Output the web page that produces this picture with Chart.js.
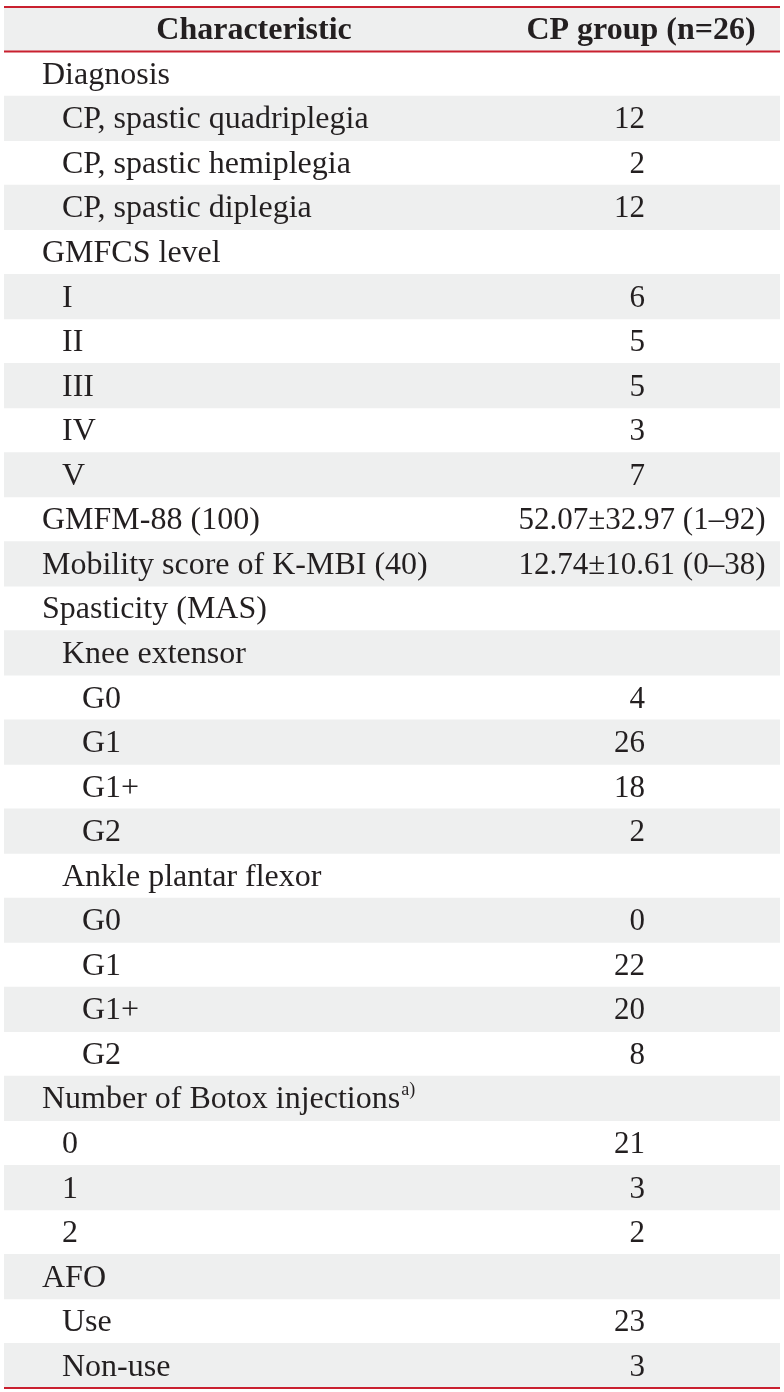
<!DOCTYPE html>
<html>
<head>
<meta charset="utf-8">
<script src="https://cdn.jsdelivr.net/npm/chart.js@4.4.1/dist/chart.umd.min.js"></script>
<style>
  html, body { margin: 0; padding: 0; background: #fff; }
  #wrap { width: 784px; height: 1392px; }
</style>
</head>
<body>
<div id="wrap"><canvas id="myChart" width="784" height="1392"></canvas></div>
<script>
(function () {
  'use strict'

  // table content
  const headers = ['Characteristic', 'CP group (n=26)']
  const rowLabels = [
    'Diagnosis', 'CP, spastic quadriplegia', 'CP, spastic hemiplegia', 'CP, spastic diplegia',
    'GMFCS level', 'I', 'II', 'III', 'IV', 'V',
    'GMFM-88 (100)', 'Mobility score of K-MBI (40)',
    'Spasticity (MAS)', 'Knee extensor', 'G0', 'G1', 'G1+', 'G2',
    'Ankle plantar flexor', 'G0', 'G1', 'G1+', 'G2',
    'Number of Botox injections', '0', '1', '2',
    'AFO', 'Use', 'Non-use'
  ]
  const rowLevels = [
    0, 1, 1, 1,
    0, 1, 1, 1, 1, 1,
    0, 0,
    0, 1, 2, 2, 2, 2,
    1, 2, 2, 2, 2,
    0, 1, 1, 1,
    0, 1, 1
  ]
  const rowValues = [
    '', '12', '2', '12',
    '', '6', '5', '5', '3', '7',
    '52.07\u00b132.97 (1\u201392)', '12.74\u00b110.61 (0\u201338)',
    '', '', '4', '26', '18', '2',
    '', '0', '22', '20', '8',
    '', '21', '3', '2',
    '', '23', '3'
  ]
  const footnoteMarks = { 'Number of Botox injections': 'a)' }

  const FONT = "'Liberation Serif', 'Times New Roman', serif"
  const INK = '#231f20'
  const RED = '#c9202f'
  const STRIPE = '#eeefef'
  const X_MAX = 776

  const categories = ['header'].concat(rowLabels)
  // every other row shaded, header included
  const stripes = categories.map((c, i) => (i % 2 === 0 ? [0, X_MAX] : null))

  const tablePlugin = {
    id: 'tableText',
    afterDatasetsDraw(chart) {
      const ctx = chart.ctx
      const x = chart.scales.x
      const y = chart.scales.y
      const area = chart.chartArea
      const rowH = (area.bottom - area.top) / categories.length
      const capShift = 10

      ctx.save()
      ctx.fillStyle = INK
      ctx.textBaseline = 'alphabetic'

      // header
      ctx.font = 'bold 32px ' + FONT
      ctx.textAlign = 'center'
      ctx.fillText(headers[0], x.getPixelForValue(250), y.getPixelForValue(0) + capShift)
      ctx.fillText(headers[1], x.getPixelForValue(637), y.getPixelForValue(0) + capShift)

      rowLabels.forEach((label, i) => {
        const yy = y.getPixelForValue(i + 1) + capShift
        ctx.font = '32px ' + FONT
        ctx.textAlign = 'left'
        const lx = x.getPixelForValue(38 + rowLevels[i] * 20)
        ctx.fillText(label, lx, yy)
        if (footnoteMarks[label]) {
          const w = ctx.measureText(label).width
          ctx.font = '18px ' + FONT
          ctx.fillText(footnoteMarks[label], lx + w + 1, yy - 13)
        }
        const v = rowValues[i]
        if (v) {
          ctx.font = '31px ' + FONT
          if (v.length > 3) {
            ctx.textAlign = 'center'
            ctx.fillText(v, x.getPixelForValue(638), yy)
          } else {
            ctx.textAlign = 'right'
            ctx.fillText(v, x.getPixelForValue(641), yy)
          }
        }
      })

      // rules: top, under header, bottom
      ctx.strokeStyle = RED
      ctx.lineWidth = 2
      const lines = [area.top, area.top + rowH, area.bottom]
      lines.forEach(ly => {
        ctx.beginPath()
        ctx.moveTo(area.left, ly)
        ctx.lineTo(area.right, ly)
        ctx.stroke()
      })
      ctx.restore()
    }
  }

  const ctx = document.getElementById('myChart').getContext('2d')

  const data = {
    labels: categories,
    datasets: [{
      label: 'rows',
      data: stripes,
      backgroundColor: STRIPE,
      borderWidth: 0,
      barPercentage: 1,
      categoryPercentage: 1
    }]
  }

  const config = {
    type: 'bar',
    data: data,
    options: {
      indexAxis: 'y',
      responsive: false,
      animation: false,
      layout: { padding: { top: 7, bottom: 4, left: 4, right: 4 } },
      plugins: {
        legend: { display: false },
        tooltip: { enabled: false }
      },
      scales: {
        x: { type: 'linear', min: 0, max: X_MAX, display: false },
        y: { type: 'category', display: false }
      }
    },
    plugins: [tablePlugin]
  }

  const myChart = new Chart(ctx, config)
})()
</script>
</body>
</html>
